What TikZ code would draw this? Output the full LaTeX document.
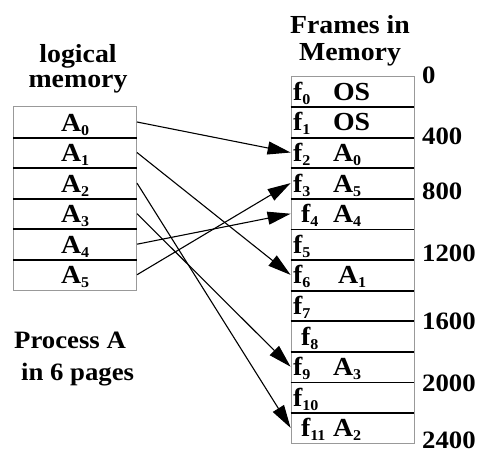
\documentclass[tikz,border=0pt]{standalone}
\usepackage{fontspec}
\setmainfont{Liberation Serif}[FakeStretch=1.07]
\usepackage{tikz}
\usetikzlibrary{arrows.meta}

\newcommand{\pgidx}[1]{\raisebox{-4pt}{\fontsize{15}{15}\selectfont #1}}

\begin{document}
\begin{tikzpicture}[x=1pt, y=-1pt,
        font=\fontsize{25}{27}\selectfont\bfseries,
        page/.style={draw=gray!80, line width=0.8pt, minimum width=123pt, minimum height=30.6pt,
            inner sep=0pt, text height=18pt, text depth=0pt, font=\fontsize{26}{27}\selectfont\bfseries},
        frame/.style={page, text width=119pt, inner xsep=2pt, align=left},
        divider/.style={line width=1.8pt},
        map/.style={line width=1.1pt, -{Triangle[length=23pt, width=13pt]}},
        addr/.style={anchor=west, inner sep=0pt},
        title/.style={align=center, inner sep=0pt}]
    \useasboundingbox (0,0) rectangle (478,452);

    % logical memory
    \node[title, font=\fontsize{26}{25}\selectfont\bfseries] (lmtitle) at (78,69) {logical\\memory};
    \foreach \i in {0,...,5}
        \node[page] (A\i) at (75.1,{122+30.55*\i}) {A\pgidx{\i}};
    \foreach \i in {0,...,4}
        \draw[divider] (A\i.south west) -- (A\i.south east);

    \node[title, anchor=west, align=left, font=\fontsize{25}{32}\selectfont\bfseries] (proc) at (14,359)
        {Process A\\\hspace{7pt}in 6 pages};

    % frames in memory
    \node[title, font=\fontsize{26}{27}\selectfont\bfseries] (fmtitle) at (350,41) {Frames in\\Memory};
    \foreach \i/\d/\c in {0/0/OS, 1/0/OS, 2/0/A\pgidx{0}, 3/0/A\pgidx{5}, 4/8/A\pgidx{4}, 5/0/,
            6/0/\hspace{5pt}A\pgidx{1}, 7/0/, 8/8/, 9/0/A\pgidx{3}, 10/0/, 11/8/A\pgidx{2}}
        \node[frame] (f\i) at (352.5,{91.3+30.6*\i}) {\makebox[40pt][l]{\hspace{\d pt}f\pgidx{\i}}\c};
    \foreach \i in {0,...,10}
        \draw[divider] (f\i.south west) -- (f\i.south east);

    \foreach \a/\y in {0/75, 400/136.5, 800/191.7, 1200/253, 1600/321.7, 2000/383.3, 2400/440}
        \node[addr] (addr\a) at (422,\y) {\a};

    % page table
    \foreach \p/\f in {0/2, 1/6, 2/11, 3/9, 4/4, 5/3}
        \draw[map] (A\p.east) -- (f\f.west);
\end{tikzpicture}
\end{document}
